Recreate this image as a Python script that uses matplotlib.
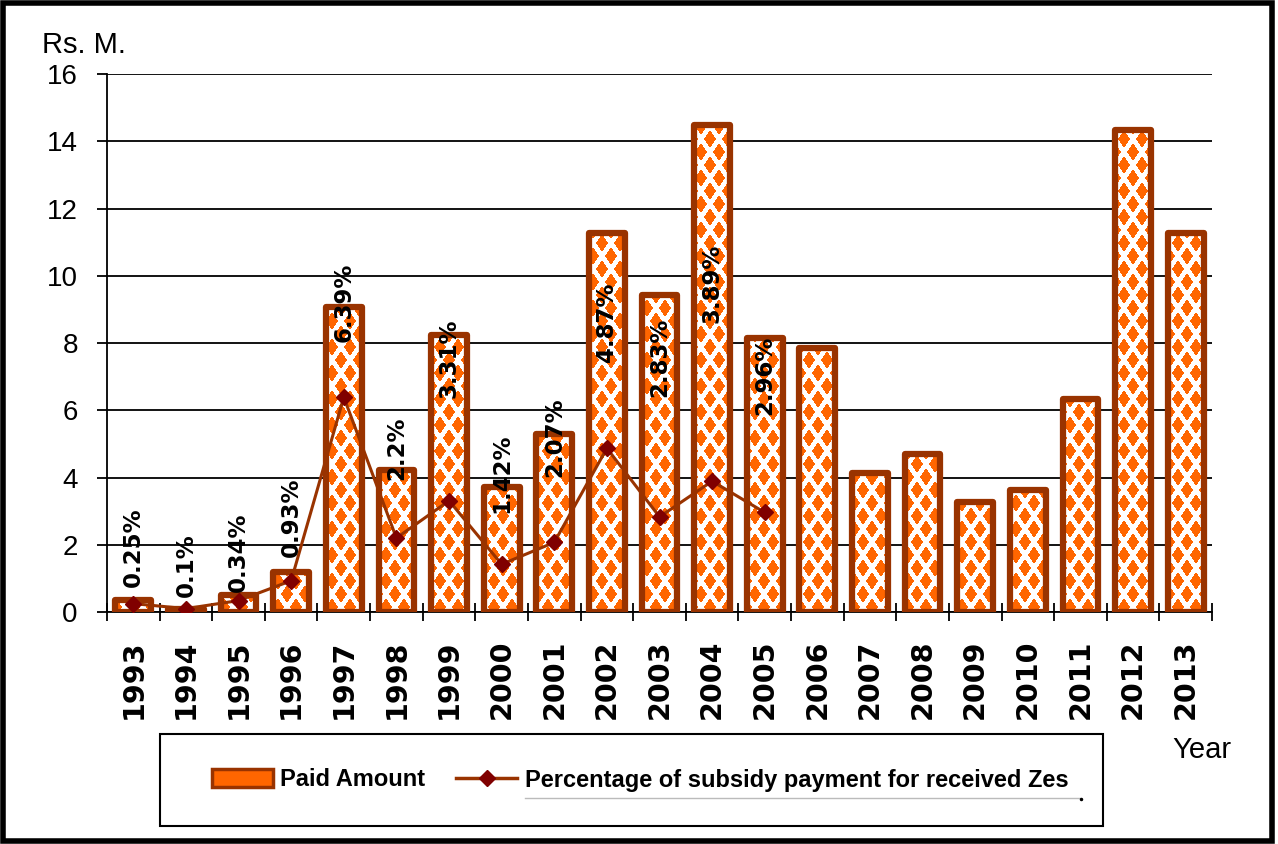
import numpy as np
import matplotlib
matplotlib.use("Agg")
import matplotlib.pyplot as plt
from matplotlib.patches import Rectangle, Patch
from matplotlib.lines import Line2D
from matplotlib.path import Path

plt.rcParams['font.family'] = ['Liberation Sans', 'DejaVu Sans']

# ── data
years = ["1993", "1994", "1995", "1996", "1997", "1998", "1999", "2000", "2001", "2002", "2003",
         "2004", "2005", "2006", "2007", "2008", "2009", "2010", "2011", "2012", "2013"]
paid_amount = [0.35, 0.1, 0.5, 1.18, 9.06, 4.21, 8.23, 3.71, 5.28, 11.26, 9.42,
               14.48, 8.14, 7.86, 4.14, 4.70, 3.26, 3.63, 6.34, 14.33, 11.26]
pct_subsidy = [0.25, 0.1, 0.34, 0.93, 6.39, 2.2, 3.31, 1.42, 2.07, 4.87, 2.83, 3.89, 2.96]

# where the % labels sit (bottom of rotated text, in Rs. M. units)
pct_label_y = [0.74, 0.45, 0.60, 1.64, 8.04, 3.93, 6.37, 2.95, 4.02, 7.44, 6.40, 8.60, 5.86]

EDGE = '#993300'
ORANGE = (1.0, 0.4, 0.0)
MARK = '#800000'

W_PX, H_PX = 1278, 844
fig = plt.figure(figsize=(W_PX / 100, H_PX / 100), dpi=100)
ax_l, ax_r, ax_t, ax_b = 107, 1212, 74, 612
ax = fig.add_axes([ax_l / W_PX, 1 - ax_b / H_PX, (ax_r - ax_l) / W_PX, (ax_b - ax_t) / H_PX])

x = np.arange(len(years))

# ── bars: outline + diamond pattern clipped inside
bars = ax.bar(x, paid_amount, width=0.68, facecolor='none', edgecolor=EDGE,
              linewidth=4.5, joinstyle='round', zorder=3)

W, H = ax_r - ax_l, ax_b - ax_t
px, py = np.meshgrid(np.arange(W) + 0.5, np.arange(H) + 0.5)
u, v = px / 9.0, py / 13.0
s, t = u + v, u - v
ds = np.abs(s - 2 * np.round(s / 2))
dt = np.abs(t - 2 * np.round(t / 2))
pattern = np.ones((H, W, 3))
pattern[np.maximum(ds, dt) < 0.68] = ORANGE
im = ax.imshow(pattern, extent=(-0.5, 20.5, 0, 16), origin='upper', aspect='auto',
               interpolation='nearest', zorder=2)
clip = Path.make_compound_path(*[b.get_path().transformed(b.get_patch_transform()) for b in bars])
im.set_clip_path(clip, ax.transData)

# ── percentage line
xp = x[:len(pct_subsidy)]
ax.plot(xp, pct_subsidy, color=EDGE, lw=2.2, marker='D', ms=8, mfc=MARK, mec=MARK, zorder=4)
for xi, val, ly in zip(xp, pct_subsidy, pct_label_y):
    ax.text(xi, ly, f"{val:g}%", rotation=90, ha='center', va='bottom', fontsize=16.5,
            fontweight='bold', family='DejaVu Sans', zorder=5)

# ── axes styling
ax.set_xlim(-0.5, 20.5)
ax.set_ylim(0, 16)
ax.set_yticks(range(0, 17, 2))
ax.yaxis.grid(True, color='black', lw=1.3)
ax.set_axisbelow(True)
for side in ('top', 'right'):
    ax.spines[side].set_visible(False)
for side in ('left', 'bottom'):
    ax.spines[side].set_color('black')
    ax.spines[side].set_linewidth(1.3)

ax.set_xticks(x)
ax.set_xticklabels(years, rotation=90, fontfamily='DejaVu Sans', fontweight='bold', fontsize=20.5)
ax.set_xticks(np.arange(-0.5, 21, 1), minor=True)
ax.tick_params(axis='x', which='major', length=0, pad=20)
ax.tick_params(axis='x', which='minor', direction='inout', length=13, width=1.3)
ax.tick_params(axis='y', length=7, width=1.3, pad=14, labelsize=20)

fig.text(42 / W_PX, 1 - 53 / H_PX, "Rs. M.", fontsize=21, va='baseline')
fig.text(1172 / W_PX, 1 - 758 / H_PX, "Year", fontsize=21, va='baseline')

# ── legend
fig.add_artist(Rectangle((160 / W_PX, 1 - 826 / H_PX), 943 / W_PX, 92 / H_PX,
                         transform=fig.transFigure, fill=False, ec='black', lw=1.5))
handles = [Patch(facecolor='#FF6600', edgecolor=EDGE, lw=2.5),
           Line2D([], [], color=EDGE, lw=2.5, marker='D', ms=8, mfc=MARK, mec=MARK)]
fig.legend(handles, ["Paid Amount", "Percentage of subsidy payment for received Zes"],
           ncol=2, loc='center', bbox_to_anchor=(640 / W_PX, 1 - 780 / H_PX), frameon=False,
           prop=dict(family='Liberation Sans', weight='bold', size=17),
           handlelength=2.6, handleheight=0.8, handletextpad=0.3, columnspacing=1.3)
fig.add_artist(Line2D([525 / W_PX, 1080 / W_PX], [1 - 798 / H_PX] * 2,
                      transform=fig.transFigure, color='#BBBBBB', lw=1))
fig.add_artist(Line2D([1081 / W_PX], [1 - 799 / H_PX], transform=fig.transFigure,
                      marker='o', ms=1.5, color='black'))

# outer frame
fig.add_artist(Rectangle((3 / W_PX, 3 / H_PX), 1269 / W_PX, 838 / H_PX,
                         transform=fig.transFigure, fill=False, ec='black', lw=4))

fig.savefig('out.png', dpi=100)
